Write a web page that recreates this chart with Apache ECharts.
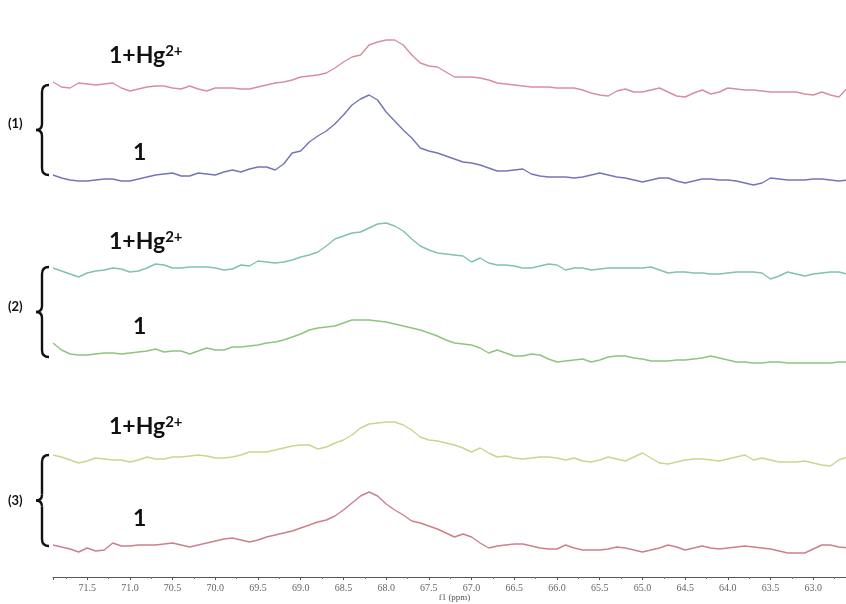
<!DOCTYPE html>
<html>
<head>
<meta charset="utf-8">
<script src="https://cdn.jsdelivr.net/npm/echarts@6/dist/echarts.min.js"></script>
<style>
  html, body { margin: 0; padding: 0; background: #fff; }
  #chart { width: 846px; height: 604px; }
</style>
</head>
<body>
<div id="chart"></div>
<script>
// chemical shift (ppm) of every sample point
const ppm = [71.9, 71.8, 71.7, 71.6, 71.5, 71.4, 71.3, 71.2, 71.1, 71.0,
  70.9, 70.8, 70.7, 70.6, 70.5, 70.4, 70.3, 70.2, 70.1, 70.0,
  69.9, 69.8, 69.7, 69.6, 69.5, 69.4, 69.3, 69.2, 69.1, 69.0,
  68.9, 68.8, 68.7, 68.6, 68.5, 68.4, 68.3, 68.2, 68.1, 68.0,
  67.9, 67.8, 67.7, 67.6, 67.5, 67.4, 67.3, 67.2, 67.1, 67.0,
  66.9, 66.8, 66.7, 66.6, 66.5, 66.4, 66.3, 66.2, 66.1, 66.0,
  65.9, 65.8, 65.7, 65.6, 65.5, 65.4, 65.3, 65.2, 65.1, 65.0,
  64.9, 64.8, 64.7, 64.6, 64.5, 64.4, 64.3, 64.2, 64.1, 64.0,
  63.9, 63.8, 63.7, 63.6, 63.5, 63.4, 63.3, 63.2, 63.1, 63.0,
  62.9, 62.8, 62.7, 62.6];

// intensities of each spectrum (arbitrary units)
const spec1Hg = [8, 3, 2, 7, 6, 5, 6, 7, 2, -1,
  1, 3, 4, 4, 2, 1, 4, 1, -1, 2,
  2, 2, 1, 1, 3, 5, 7, 8, 10, 13,
  14, 15, 17, 22, 28, 33, 35, 45, 48, 50,
  50, 45, 35, 27, 24, 23, 18, 13, 13, 13,
  12, 10, 7, 6, 5, 4, 3, 3, 3, 2,
  2, 2, 0, -3, -5, -6, -1, 1, -2, -2,
  0, 2, -2, -6, -7, -3, 0, -4, -2, 2,
  1, 0, 0, -1, -2, -2, -2, -2, -4, -5,
  -2, -5, -7, 2];
const spec1 = [3, 0, -2, -3, -3, -2, -1, -1, -3, -3,
  -1, 1, 3, 4, 5, 2, 2, 5, 4, 3,
  6, 8, 6, 9, 11, 11, 8, 14, 25, 27,
  36, 42, 47, 54, 63, 73, 79, 83, 78, 66,
  57, 48, 40, 30, 27, 25, 22, 19, 16, 15,
  13, 10, 7, 7, 8, 9, 4, 2, 1, 1,
  1, 0, 1, 3, 5, 3, 1, 0, -2, -4,
  -2, 0, 0, -3, -5, -3, -1, -1, -2, -2,
  -3, -5, -7, -5, 0, -1, -2, -2, -2, -1,
  -1, -2, -3, -2];
const spec2Hg = [2, -1, -4, -7, -3, -1, 0, 2, 1, -2,
  -1, 2, 6, 5, 2, 2, 3, 3, 3, 2,
  0, 1, 5, 4, 9, 8, 7, 8, 10, 13,
  15, 18, 24, 31, 34, 37, 38, 42, 46, 47,
  44, 39, 31, 24, 20, 17, 16, 15, 14, 8,
  12, 7, 5, 5, 4, 2, 2, 4, 6, 5,
  0, 2, 2, 0, 1, 2, 2, 2, 2, 2,
  3, 0, -3, -2, -2, -3, -3, -4, -4, -3,
  -2, -2, -2, -3, -9, -6, -2, -4, -6, -4,
  -3, -2, -2, -4];
const spec2 = [15, 8, 4, 3, 3, 4, 5, 5, 4, 5,
  6, 7, 9, 6, 7, 7, 4, 7, 10, 8,
  8, 11, 11, 12, 13, 15, 16, 18, 21, 24,
  28, 30, 31, 32, 35, 38, 38, 38, 37, 36,
  34, 32, 30, 28, 25, 22, 18, 15, 14, 13,
  10, 5, 8, 5, 2, 2, 4, 3, -1, -4,
  -3, -2, -1, -4, -2, 1, 2, 2, 0, -1,
  -3, -3, -3, -2, -2, -1, 0, 2, 0, -2,
  -4, -4, -5, -5, -4, -4, -5, -5, -5, -5,
  -5, -5, -4, -4];
const spec3Hg = [5, 3, 0, -3, -1, 2, 1, 0, 0, -2,
  0, 3, 1, 1, 3, 3, 4, 5, 4, 2,
  2, 3, 5, 8, 8, 8, 10, 12, 14, 15,
  15, 11, 13, 17, 20, 25, 32, 36, 37, 38,
  38, 35, 30, 23, 20, 19, 17, 15, 12, 8,
  12, 7, 3, 4, 2, 1, 2, 3, 3, 2,
  0, 2, -1, -2, 0, 3, 1, -1, 3, 7,
  2, -3, -4, -2, 0, 1, 1, 0, -1, 1,
  3, 5, 0, 2, 0, -2, -2, -2, -1, -3,
  -5, -6, 0, 3];
const spec3 = [3, 1, -1, -4, 0, -3, -2, 5, 2, 2,
  3, 3, 3, 4, 5, 3, 1, 3, 5, 7,
  9, 10, 8, 6, 8, 11, 13, 15, 17, 20,
  23, 26, 28, 32, 38, 45, 52, 56, 52, 44,
  38, 33, 27, 25, 22, 19, 15, 11, 14, 11,
  5, 0, 2, 3, 4, 4, 2, 0, -1, -1,
  3, 0, -2, -2, -2, -1, 1, 0, -2, -4,
  -2, 0, 3, 1, -2, 0, 2, 0, -1, 0,
  1, 2, 1, 0, -1, -3, -5, -5, -5, -1,
  3, 3, 1, 0];

const spectra = [spec1Hg, spec1, spec2Hg, spec2, spec3Hg, spec3];
// vertical stacking offset of each spectrum
const offsets = [487, 399, 307, 219, 117, 29];
const colors = ['#d98e9d', '#7474b9', '#80c1b1', '#8fc47f', '#c9d68c', '#cd7f8c'];

const chart = echarts.init(document.getElementById('chart'));

const series = spectra.map((vals, i) => ({
  type: 'line',
  showSymbol: false,
  silent: true,
  lineStyle: { color: colors[i], width: 1.4 },
  data: vals.map((v, k) => [ppm[k], offsets[i] + v])
}));

// curly brace made of curves and lines
function brace(yTop, yBot) {
  const m = (yTop + yBot) / 2;
  const st = { stroke: '#111', lineWidth: 2.4, fill: 'none' };
  return {
    type: 'group',
    children: [
      { type: 'bezierCurve', shape: { x1: 49, y1: yTop, cpx1: 42, cpy1: yTop, x2: 42, y2: yTop + 7 }, style: st },
      { type: 'line', shape: { x1: 42, y1: yTop + 7, x2: 42, y2: m - 6 }, style: st },
      { type: 'bezierCurve', shape: { x1: 42, y1: m - 6, cpx1: 42, cpy1: m, x2: 36, y2: m }, style: st },
      { type: 'bezierCurve', shape: { x1: 36, y1: m, cpx1: 42, cpy1: m, x2: 42, y2: m + 6 }, style: st },
      { type: 'line', shape: { x1: 42, y1: m + 6, x2: 42, y2: yBot - 7 }, style: st },
      { type: 'bezierCurve', shape: { x1: 42, y1: yBot - 7, cpx1: 42, cpy1: yBot, x2: 49, y2: yBot }, style: st }
    ]
  };
}

function hgLabel(y) {
  return {
    type: 'text', x: 109, y: y,
    style: {
      text: '{a|1+Hg}{s|2+}',
      rich: {
        a: { fontFamily: 'Lato', fontWeight: 'bold', fontSize: 23, fill: '#111' },
        s: { fontFamily: 'Lato', fontWeight: 'bold', fontSize: 15, fill: '#111', verticalAlign: 'top', padding: [0, 0, 9, 0] }
      }
    }
  };
}

function oneLabel(y) {
  return {
    type: 'text', x: 133, y: y,
    style: { text: '1', fontFamily: 'Lato', fontWeight: 'bold', fontSize: 23, fill: '#111' }
  };
}

function groupLabel(txt, y) {
  return {
    type: 'text', x: 8, y: y,
    style: { text: txt, fontFamily: 'Lato', fontWeight: 'bold', fontSize: 13, fill: '#111' }
  };
}

const option = {
  animation: false,
  backgroundColor: '#fff',
  grid: { left: 53, right: -10, top: 0, bottom: 27, outerBoundsMode: 'none', containLabel: false },
  xAxis: {
    type: 'value',
    inverse: true,
    min: 62.5,
    max: 71.9,
    interval: 0.5,
    name: 'f1 (ppm)',
    nameLocation: 'middle',
    nameGap: 16,
    nameMoveOverlap: false,
    nameTextStyle: { fontFamily: 'Liberation Serif', fontSize: 9, color: '#555' },
    axisLine: { lineStyle: { color: '#555', width: 1 } },
    axisTick: { length: 3, lineStyle: { color: '#555' } },
    minorTick: { show: true, splitNumber: 2, length: 2, lineStyle: { color: '#777' } },
    splitLine: { show: false },
    axisLabel: {
      showMaxLabel: false,
      showMinLabel: false,
      margin: 6,
      fontFamily: 'Liberation Serif',
      fontSize: 10,
      color: '#666',
      formatter: v => v.toFixed(1)
    }
  },
  yAxis: { type: 'value', min: 0, max: 577, show: false },
  series: series,
  graphic: [
    hgLabel(44), oneLabel(141), groupLabel('(1)', 117), brace(85, 175),
    hgLabel(230), oneLabel(315), groupLabel('(2)', 300), brace(267, 357),
    hgLabel(415), oneLabel(507), groupLabel('(3)', 494), brace(455, 546)
  ]
};

chart.setOption(option);
</script>
</body>
</html>
